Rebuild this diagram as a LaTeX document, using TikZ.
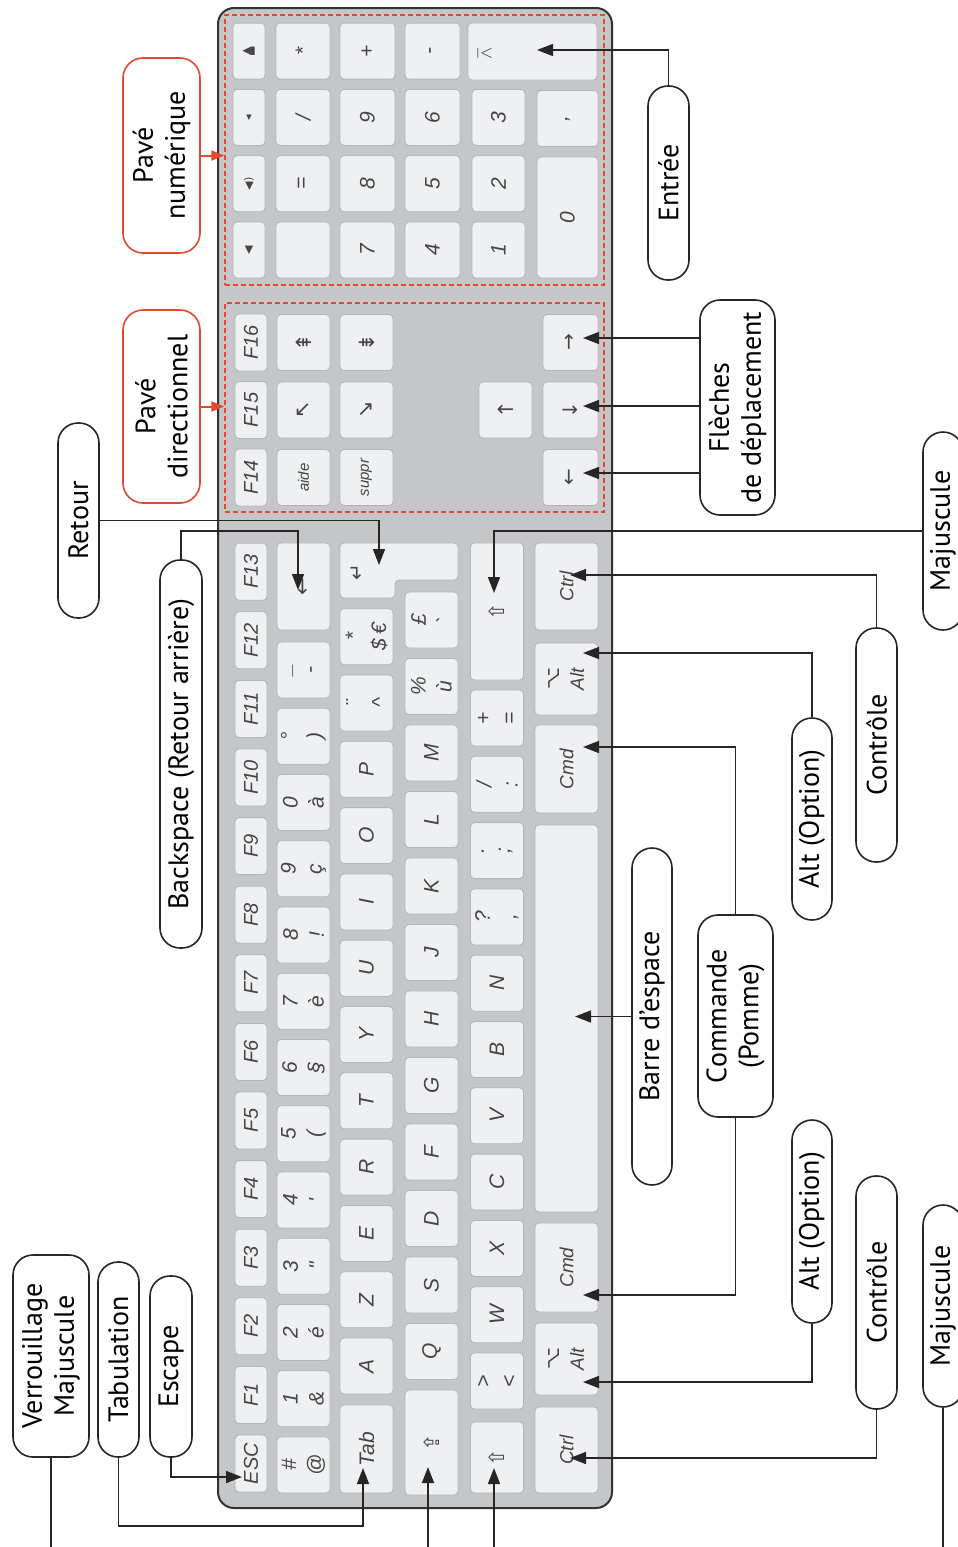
\documentclass[tikz,border=0pt]{standalone}
\usepackage{fontspec}
\usepackage{amssymb}
\setmainfont{PT Sans}
\newfontfamily\keyfont{Liberation Sans}
\newfontfamily\symfont{DejaVu Sans}
\usetikzlibrary{arrows.meta}
\definecolor{kbgray}{HTML}{C5C6C8}
\definecolor{keyfill}{HTML}{EEF0F2}
\definecolor{keyline}{HTML}{B3B5B8}
\definecolor{keytext}{HTML}{454545}
\definecolor{padred}{HTML}{E5492D}
\begin{document}
\begin{tikzpicture}
  [x=.5pt,y=-.5pt,
   key/.style={draw=keyline,fill=keyfill,rounded corners=2pt,rotate=90,inner sep=0pt,align=center,text=keytext,font=\keyfont\itshape\fontsize{10.5}{13}\selectfont},
   fk/.style={key,minimum width=28.5pt,minimum height=16pt,font=\keyfont\itshape\fontsize{10}{12}\selectfont},
   nk/.style={key,minimum width=28pt,minimum height=26.5pt},
   lab/.style={draw=black!85,line width=.8pt,fill=white,rounded corners=10pt,rotate=90,inner sep=0pt,align=center,font=\fontsize{14}{16}\selectfont},
   redlab/.style={lab,draw=padred},
   pad/.style={draw=padred,line width=.7pt,dash pattern=on 2.5pt off 1.5pt,inner sep=0pt},
   link/.style={draw=black!85,line width=.8pt},
   arr/.style={link,-{Triangle[length=8pt,width=6pt]}},
   redarr/.style={draw=padred,line width=1pt,-{Triangle[length=6.5pt,width=5pt]}}]
  \useasboundingbox (0,0) rectangle (958,1547);
  \draw[fill=kbgray,draw=black!80,line width=1pt,rounded corners=8pt] (218,8) rectangle (612,1508);

  \foreach \t [count=\i from 0] in {ESC,F1,F2,F3,F4,F5,F6,F7,F8,F9,F10,F11,F12,F13}
    \node[fk] (f\i) at (251,1463.5-68.6*\i) {\t};
  \foreach \t [count=\i from 0] in {{\#\\@},{1\\\&},{2\\é},{3\\"},{4\\'},{5\\(},{6\\§},{7\\è},{8\\!},{9\\ç},{0\\à},{°\\)},{\_\\-}}
    \node[nk] (n\i) at (303.5,1465-66.25*\i) {\t};
  \node[nk,minimum width=43.5pt] (bksp) at (303.5,586.5) {{\symfont ←}};
  \node[nk,minimum width=44pt] (tabk) at (366.5,1449) {Tab};
  \foreach \t [count=\i from 0] in {A,Z,E,R,T,Y,U,I,O,P,{¨\\\textasciicircum},{*\\\$\,€}}
    \node[nk] (a\i) at (366.5,1366-66.3*\i) {\t};
  \draw[fill=keyfill,draw=keyline,rounded corners=2pt] (340,543) -- (458,543) -- (458,580) -- (395,580) -- (395,598) -- (340,598) -- cycle;
  \node[rotate=90,text=keytext,font=\symfont\fontsize{10}{12}\selectfont] (entk) at (357,572) {↵};
  \node[nk,minimum width=52.5pt] (caps) at (431.5,1442.5) {{\symfont ⇪}};
  \foreach \t [count=\i from 0] in {Q,S,D,F,G,H,J,K,L,M,{\%\\ù},{£\\`}}
    \node[nk] (q\i) at (431.5,1351.5-66.5*\i) {\t};
  \node[nk,minimum width=35.5pt] (shl) at (497,1457.5) {{\symfont ⇧}};
  \foreach \t [count=\i from 0] in {{>\\<},W,X,C,V,B,N,{?\\,},{.\\;},{/\\:},{+\\=}}
    \node[nk] (w\i) at (497,1381-66.3*\i) {\t};
  \node[nk,minimum width=68.5pt] (shr) at (497,611.5) {{\symfont ⇧}};
  \foreach \y/\w/\t [count=\i] in {1450/43/Ctrl,1359/36/{{\symfont ⌥}\\Alt},1267.5/44.5/Cmd,1018.5/193.5/{},769/44/Cmd,679/36/{{\symfont ⌥}\\Alt},586.5/43.5/Ctrl}
    \node[key,minimum width=\w pt,minimum height=31.5pt,font=\keyfont\itshape\fontsize{9.5}{12}\selectfont] (b\i) at (566.5,\y) {\t};

  \node[pad,minimum width=189.5pt,minimum height=104.5pt] (dirpad) at (414.5,407.5) {};
  \foreach \t [count=\i from 0] in {F14,F15,F16}
    \node[fk] (g\i) at (251,477.5-67.5*\i) {\t};
  \foreach \t [count=\i from 0] in {{\fontsize{7.5}{9}\selectfont aide},{\symfont ↖},{\symfont ⇞}}
    \node[nk] (h\i) at (303.5,477.5-67.5*\i) {\t};
  \foreach \t [count=\i from 0] in {{\fontsize{7.5}{9}\selectfont suppr},{\symfont ↘},{\symfont ⇟}}
    \node[nk] (k\i) at (366.5,477.5-67.5*\i) {\t};
  \node[nk] (up) at (505.5,410) {{\symfont ↑}};
  \foreach \t [count=\i from 0] in {←,↓,→}
    \node[nk,minimum height=27.5pt,font=\symfont\fontsize{10}{12}\selectfont] (ar\i) at (570.5,477.5-67.5*\i) {\t};

  \node[pad,minimum width=189.5pt,minimum height=135pt] (numpad) at (414.5,150) {};
  \foreach \t [count=\i from 0] in {◀,◀),◂,{▲\\[-3pt]▬}}
    \node[fk,minimum width=28pt,font=\symfont\fontsize{5.5}{6}\selectfont] (m\i) at (249,250-66.3*\i) {\t};
  \foreach \t [count=\i from 0] in {{},=,/,*}
    \node[nk,minimum height=27pt] (p\i) at (303,250-66.3*\i) {\t};
  \foreach \t [count=\i from 0] in {7,8,9,+}
    \node[nk,minimum height=27.5pt] (r\i) at (367.5,250-66.3*\i) {\t};
  \foreach \t [count=\i from 0] in {4,5,6,-}
    \node[nk,minimum height=27.5pt] (s\i) at (432.5,250-66.3*\i) {\t};
  \foreach \t [count=\i from 0] in {1,2,3}
    \node[nk] (u\i) at (498.5,250-66.3*\i) {\t};
  \node[key,minimum width=28.5pt,minimum height=64.5pt] (nent) at (532.5,51.5) {};
  \node[rotate=90,text=keytext,inner sep=0pt] (nentsym) at (487,53) {$\barwedge$};
  \node[key,minimum width=60.5pt,minimum height=30.5pt] (zero) at (567.5,217.5) {0};
  \node[key,minimum width=28pt,minimum height=30.5pt] (comma) at (567.5,118.5) {,};

  \node[lab,minimum width=101pt,minimum height=38pt] (verr) at (51,1356) {Verrouillage\\Majuscule};
  \node[lab,minimum width=97.5pt,minimum height=20.5pt] (tab) at (118.5,1359.5) {Tabulation};
  \node[lab,minimum width=90.5pt,minimum height=21pt] (esc) at (171,1366.5) {Escape};
  \node[lab,minimum width=194pt,minimum height=21pt] (back) at (181,754) {Backspace (Retour arrière)};
  \node[lab,minimum width=97.5pt,minimum height=20.5pt] (retour) at (78.5,520.5) {Retour};
  \node[redlab,minimum width=96.5pt,minimum height=38.5pt] (pdir) at (161.5,406.5) {Pavé\\directionnel};
  \node[redlab,minimum width=97.5pt,minimum height=38.5pt] (pnum) at (161.5,155.5) {Pavé\\numérique};
  \node[lab,minimum width=97pt,minimum height=20.5pt] (entree) at (668.5,183) {Entrée};
  \node[lab,minimum width=107.5pt,minimum height=37.5pt] (fleches) at (737.5,407.5) {Flèches\\de déplacement};
  \node[lab,minimum width=168.5pt,minimum height=20pt] (barre) at (652,1016.5) {Barre d'espace};
  \node[lab,minimum width=101pt,minimum height=37.5pt] (cmd) at (735.5,1016) {Commande\\(Pomme)};
  \node[lab,minimum width=101.5pt,minimum height=20pt] (altA) at (812,1221.5) {Alt (Option)};
  \node[lab,minimum width=101pt,minimum height=20pt] (altB) at (812,819) {Alt (Option)};
  \node[lab,minimum width=116.5pt,minimum height=20.5pt] (ctrlA) at (876.5,1292.5) {Contrôle};
  \node[lab,minimum width=117pt,minimum height=20.5pt] (ctrlB) at (876.5,745) {Contrôle};
  \node[lab,minimum width=101pt,minimum height=20pt] (majA) at (943,1306) {Majuscule};
  \node[lab,minimum width=99pt,minimum height=20pt] (majB) at (943,531) {Majuscule};

  \coordinate (tEsc) at (242,1477);
  \coordinate (tTab) at (363,1468);
  \coordinate (tCaps) at (428,1467);
  \coordinate (tShL) at (494,1468);
  \coordinate (tCtrlL) at (570,1458);
  \coordinate (tAltL) at (583,1382);
  \coordinate (tCmdL) at (583,1295);
  \coordinate (tSpace) at (575,1016.5);
  \coordinate (tCmdR) at (583,747);
  \coordinate (tAltR) at (583,653);
  \coordinate (tCtrlR) at (570,575);
  \coordinate (tShR) at (494,593);
  \coordinate (tBack) at (298,590);
  \coordinate (tRet) at (379,565);
  \coordinate (tLeft) at (583,473);
  \coordinate (tDown) at (583,406);
  \coordinate (tUp) at (583,338);
  \coordinate (tEnter) at (537,50);
  \coordinate (eVer) at (51,1547);
  \coordinate (eCaps) at (428,1547);
  \coordinate (eShL) at (494,1547);
  \coordinate (eMaj) at (943,1547);

  \draw[link] (verr.west) -- (eVer);
  \draw[arr] (tab.west) -- ++(0,68) -| (tTab);
  \draw[arr] (esc.west) |- (tEsc);
  \draw[arr] (eCaps) -- (tCaps);
  \draw[arr] (eShL) -- (tShL);
  \draw[arr] (back.east) -- ++(0,-28) -| (tBack);
  \draw[arr] (retour.south) -| (tRet);
  \draw[redarr] (pdir.south) -- (pdir.south -| dirpad.west);
  \draw[redarr] (pnum.south) -- (pnum.south -| numpad.west);
  \draw[arr] (entree.east) |- (tEnter);
  \foreach \t in {tUp,tDown,tLeft}
    \draw[arr] (\t -| fleches.north) -- (\t);
  \draw[arr] (barre.north) -- (tSpace);
  \draw[arr] (cmd.west) |- (tCmdL);
  \draw[arr] (cmd.east) |- (tCmdR);
  \draw[arr] (altA.west) |- (tAltL);
  \draw[arr] (altB.east) |- (tAltR);
  \draw[arr] (ctrlA.west) |- (tCtrlL);
  \draw[arr] (ctrlB.east) |- (tCtrlR);
  \draw[link] (majA.west) -- (eMaj);
  \draw[arr] (majB.north) -| (tShR);
\end{tikzpicture}
\end{document}
